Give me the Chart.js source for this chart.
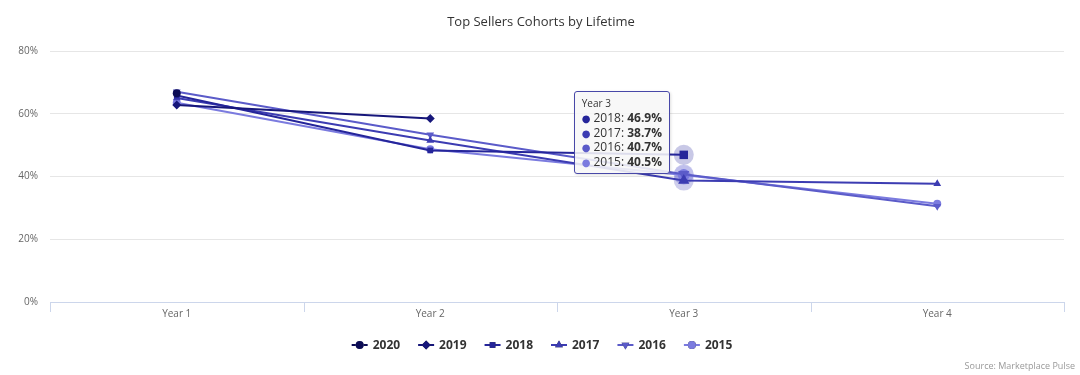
<!DOCTYPE html>
<html>
<head>
<meta charset="utf-8">
<script src="https://cdn.jsdelivr.net/npm/chart.js@4/dist/chart.umd.min.js"></script>
<style>
  html, body { margin: 0; padding: 0; background: #fff; }
  #wrap { position: relative; width: 1080px; height: 375px; }
  #tip {
    position: absolute; pointer-events: none; display: none;
    background: rgba(247,247,247,0.88); border: 1px solid #4848a8; border-radius: 3px;
    font-family: "Open Sans", "DejaVu Sans", sans-serif; color: #333;
    padding: 5px 7px 4px 7px; box-shadow: 1px 1px 3px rgba(0,0,0,0.12);
    white-space: nowrap;
  }
  #tip .t { font-size: 10px; line-height: 13px; margin-bottom: 1px; }
  #tip .r { font-size: 12px; line-height: 14.5px; }
  #tip .d { font-size: 10px; margin-right: 3px; }
</style>
</head>
<body>
<div id="wrap">
  <canvas id="c" width="1080" height="375"></canvas>
  <div id="tip"></div>
</div>
<script>
const categories = ['Year 1', 'Year 2', 'Year 3', 'Year 4'];
const cohorts = ['2020', '2019', '2018', '2017', '2016', '2015'];
const s2020 = [66.5, null, null, null];
const s2019 = [62.8, 58.5, null, null];
const s2018 = [65.8, 48.3, 46.9, null];
const s2017 = [65.0, 51.5, 38.7, 37.7];
const s2016 = [67.0, 53.3, 40.7, 30.5];
const s2015 = [63.5, 48.7, 40.5, 31.3];
const yTicks = [0, 20, 40, 60, 80];
const titleText = 'Top Sellers Cohorts by Lifetime';
const sourceText = 'Source: Marketplace Pulse';

const seriesValues = [s2020, s2019, s2018, s2017, s2016, s2015];
const colors = ['#0c0c55', '#16167a', '#25259a', '#3c3cb2', '#5b5bc9', '#7b7bdf'];
const pointStyles = ['circle', 'rectRot', 'rect', 'triangle', 'triangle', 'circle'];
const rotations = [0, 0, 0, 0, 180, 0];
const radii = [4, 4.5, 4, 4.5, 4.5, 4];
const FONT = '"Open Sans", "DejaVu Sans", sans-serif';

const datasets = cohorts.map((name, i) => ({
  label: name,
  data: seriesValues[i],
  borderColor: colors[i],
  backgroundColor: colors[i],
  pointBackgroundColor: colors[i],
  pointBorderColor: colors[i],
  pointHoverBackgroundColor: colors[i],
  pointHoverBorderColor: colors[i],
  pointStyle: pointStyles[i],
  rotation: rotations[i],
  pointRadius: radii[i],
  pointHoverRadius: radii[i] + 2,
  pointBorderWidth: 0,
  pointHoverBorderWidth: 0,
  borderWidth: 2,
  tension: 0,
  spanGaps: false,
  fill: false
}));

const decor = {
  id: 'decor',
  beforeDatasetsDraw(chart) {
    const ctx = chart.ctx;
    const a = chart.chartArea;
    ctx.save();
    ctx.strokeStyle = '#ccd6eb';
    ctx.lineWidth = 1;
    ctx.beginPath();
    ctx.moveTo(a.left, a.bottom + 0.5);
    ctx.lineTo(a.right, a.bottom + 0.5);
    const n = categories.length;
    const w = (a.right - a.left) / n;
    for (let i = 0; i <= n; i++) {
      const px = Math.round(a.left + i * w) + 0.5;
      ctx.moveTo(px, a.bottom);
      ctx.lineTo(px, a.bottom + 10);
    }
    ctx.stroke();
    const act = chart.getActiveElements();
    act.forEach(e => {
      const el = e.element;
      ctx.fillStyle = colors[e.datasetIndex] + '40';
      ctx.beginPath();
      ctx.arc(el.x, el.y, 10, 0, Math.PI * 2);
      ctx.fill();
    });
    ctx.restore();
  },
  afterDraw(chart) {
    const ctx = chart.ctx;
    ctx.save();
    ctx.fillStyle = '#333333';
    ctx.font = '13px ' + FONT;
    ctx.textAlign = 'center';
    ctx.textBaseline = 'middle';
    ctx.fillText(titleText, 541, 22);
    ctx.fillStyle = '#999999';
    ctx.font = '9px ' + FONT;
    ctx.textAlign = 'right';
    ctx.fillText(sourceText, 1075, 366);
    ctx.font = 'bold 12px ' + FONT;
    ctx.textAlign = 'left';
    const itemW = [];
    chart.data.datasets.forEach(ds => itemW.push(16 + 5 + ctx.measureText(ds.label).width));
    const gap = 18;
    const total = itemW.reduce((s, v) => s + v, 0) + gap * (itemW.length - 1);
    let lx = 542 - total / 2;
    const ly = 345;
    chart.data.datasets.forEach((ds, i) => {
      ctx.strokeStyle = colors[i];
      ctx.lineWidth = 2;
      ctx.beginPath();
      ctx.moveTo(lx, ly);
      ctx.lineTo(lx + 16, ly);
      ctx.stroke();
      Chart.helpers.drawPoint(ctx, {
        pointStyle: pointStyles[i], rotation: rotations[i], radius: radii[i], borderWidth: 0
      }, lx + 8, ly);
      ctx.fillStyle = colors[i];
      ctx.fill();
      ctx.fillStyle = '#333333';
      ctx.fillText(ds.label, lx + 21, ly + 1);
      lx += itemW[i] + gap;
    });
    ctx.restore();
  }
};

function externalTip(context) {
  const tip = document.getElementById('tip');
  const m = context.tooltip;
  if (!m.dataPoints || m.dataPoints.length === 0 || m.opacity === 0) { tip.style.display = 'none'; return; }
  const dp = m.dataPoints;
  let html = '<div class="t">' + categories[dp[0].dataIndex] + '</div>';
  dp.forEach(p => {
    html += '<div class="r"><span class="d" style="color:' + colors[p.datasetIndex] + '">\u25CF</span>' +
      cohorts[p.datasetIndex] + ': <b>' + p.raw.toFixed(1) + '%</b></div>';
  });
  tip.innerHTML = html;
  tip.style.display = 'block';
  const yS = context.chart.scales.y;
  tip.style.left = (m.caretX - 110) + 'px';
  tip.style.top = (yS.getPixelForValue(yTicks[yTicks.length - 1]) + 40) + 'px';
}

const chart = new Chart(document.getElementById('c'), {
  type: 'line',
  data: { labels: categories, datasets: datasets },
  options: {
    responsive: false,
    animation: false,
    events: [],
    layout: { padding: { top: 51, right: 16, left: 0, bottom: 0 } },
    interaction: { mode: 'index', intersect: false },
    plugins: {
      legend: { display: false },
      title: { display: false },
      tooltip: { enabled: false, external: externalTip }
    },
    scales: {
      x: {
        type: 'category',
        offset: true,
        grid: { display: false, drawTicks: false },
        border: { display: false },
        ticks: { color: '#666666', font: { size: 10, family: FONT }, padding: 6, maxRotation: 0 },
        afterFit(s) { s.height = 73; }
      },
      y: {
        min: yTicks[0],
        max: yTicks[yTicks.length - 1],
        afterBuildTicks(s) { s.ticks = yTicks.map(v => ({ value: v })); },
        grid: { color: '#e6e6e6', drawTicks: false, lineWidth: 1 },
        border: { display: false },
        ticks: {
          color: '#666666', font: { size: 10, family: FONT }, padding: 12,
          callback: v => v + '%'
        },
        afterFit(s) { s.width = 50; }
      }
    }
  },
  plugins: [decor]
});

const activeIdx = 2;
const active = [2, 3, 4, 5].map(i => ({ datasetIndex: i, index: activeIdx }));
chart.setActiveElements(active);
chart.tooltip.setActiveElements(active, { x: chart.scales.x.getPixelForValue(activeIdx), y: chart.scales.y.getPixelForValue(40) });
chart.update();
</script>
</body>
</html>
